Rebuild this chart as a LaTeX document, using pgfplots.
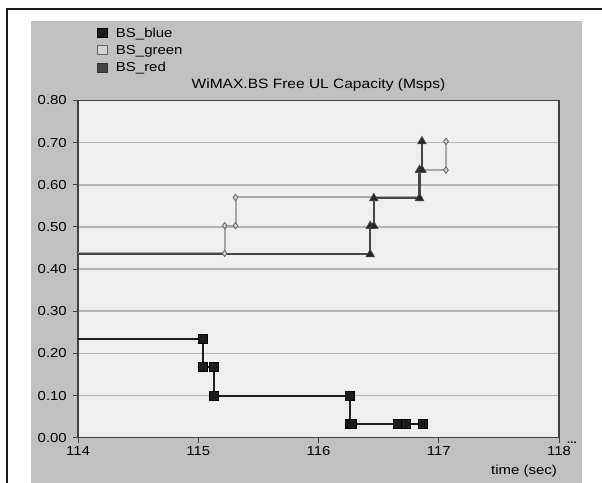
\documentclass[border=0pt]{standalone}
\usepackage{pgfplots}
\pgfplotsset{compat=1.18}
\usepackage{fontspec}
\setmainfont{Liberation Sans}[FakeStretch=1.15]
\definecolor{panel}{HTML}{C0C0C0}
\definecolor{plotbg}{HTML}{EFEFEF}
\definecolor{gridc}{HTML}{B4B4B4}
\definecolor{bluec}{HTML}{1C1C1C}
\definecolor{greenl}{HTML}{A6A6A6}
\definecolor{greenm}{HTML}{D2D2D2}
\definecolor{redc}{HTML}{454545}
\begin{document}
\fontsize{13bp}{15bp}\selectfont
\begin{tikzpicture}[x=1bp,y=1bp]
\useasboundingbox (0,0) rectangle (602,483);
\fill[panel] (31,0) rectangle (582,462);
\draw[line width=2.7bp, color=black!90] (7,0) -- (7,474) -- (602,474);
\begin{axis}[
  name=ax,
  at={(78bp,45.3bp)}, anchor=south west,
  scale only axis, width=481bp, height=337.2bp,
  xmin=114, xmax=118, ymin=0, ymax=0.8,
  xtick={114,115,116,117,118},
  ytick={0,0.1,0.2,0.3,0.4,0.5,0.6,0.7,0.8},
  /pgf/number format/assume math mode=true,
  yticklabel style={/pgf/number format/fixed, /pgf/number format/fixed zerofill, /pgf/number format/precision=2, anchor=east, inner sep=0pt, xshift=-6bp},
  xticklabel style={anchor=base, inner sep=0pt, yshift=-13.3bp},
  scaled y ticks=false,
  axis background/.style={fill=plotbg},
  ymajorgrids, major grid style={gridc, line width=1.5bp},
  axis line style={draw=black!75, line width=1.3bp},
  tick style={draw=black!75, line width=1bp},
  tick align=outside, major tick length=5bp,
  xtick pos=bottom, ytick pos=left,
  title={WiMAX.BS Free UL Capacity (Msps)},
  title style={at={(0.5,1)}, anchor=base, yshift=6bp, inner sep=0pt, font=\fontsize{13.5bp}{15bp}\selectfont},
  xlabel={time (sec)},
  xlabel style={at={(1,0)}, anchor=base east, yshift=-36.8bp, xshift=-2bp, inner sep=0pt},
  legend style={at={(0,1)}, anchor=north west, xshift=19bp, yshift=74.5bp, draw=none, fill=none, inner sep=0pt, row sep=2bp, cells={anchor=base west, inner sep=0pt}, /tikz/every odd column/.append style={column sep=6bp}},
]
\addplot[bluec, line width=2.5bp, mark=square*, mark size=4.5bp, mark options={fill=bluec, draw=black, line width=0.6bp},
  legend image code/.code={\draw[fill=bluec, draw=black, line width=0.6bp] (0bp,0bp) rectangle (10bp,9bp);}]
  coordinates {(113.5,0.234) (115.04,0.234) (115.04,0.168) (115.13,0.168) (115.13,0.099) (116.26,0.099) (116.26,0.033) (116.28,0.033) (116.66,0.033) (116.73,0.033) (116.87,0.033)};
\addlegendentry{BS\_blue}
\addplot[greenl, line width=2bp, mark=diamond*, mark size=3.2bp, mark options={fill=greenm, draw=black!60, line width=0.8bp},
  legend image code/.code={\draw[fill=greenm, draw=black!60, line width=0.8bp] (0bp,0bp) rectangle (10bp,9bp);}]
  coordinates {(113.5,0.437) (115.22,0.437) (115.22,0.503) (115.31,0.503) (115.31,0.570) (116.84,0.570) (116.84,0.635) (117.06,0.635) (117.06,0.703)};
\addlegendentry{BS\_green}
\addplot[redc, line width=2.3bp, mark=triangle*, mark size=5bp, mark options={fill=black!85, draw=black!70, line width=0.6bp},
  legend image code/.code={\draw[fill=redc, draw=black!80, line width=0.6bp] (0bp,0bp) rectangle (10bp,9bp);}]
  coordinates {(113.5,0.435) (116.43,0.435) (116.43,0.502) (116.46,0.502) (116.46,0.568) (116.84,0.568) (116.84,0.635) (116.86,0.635) (116.86,0.703)};
\addlegendentry{BS\_red}
\end{axis}
\node[anchor=base west, inner sep=0pt, font=\fontsize{10bp}{10bp}\selectfont\bfseries, xshift=8bp, yshift=-5.8bp] at (ax.south east) {...};
\end{tikzpicture}
\end{document}
